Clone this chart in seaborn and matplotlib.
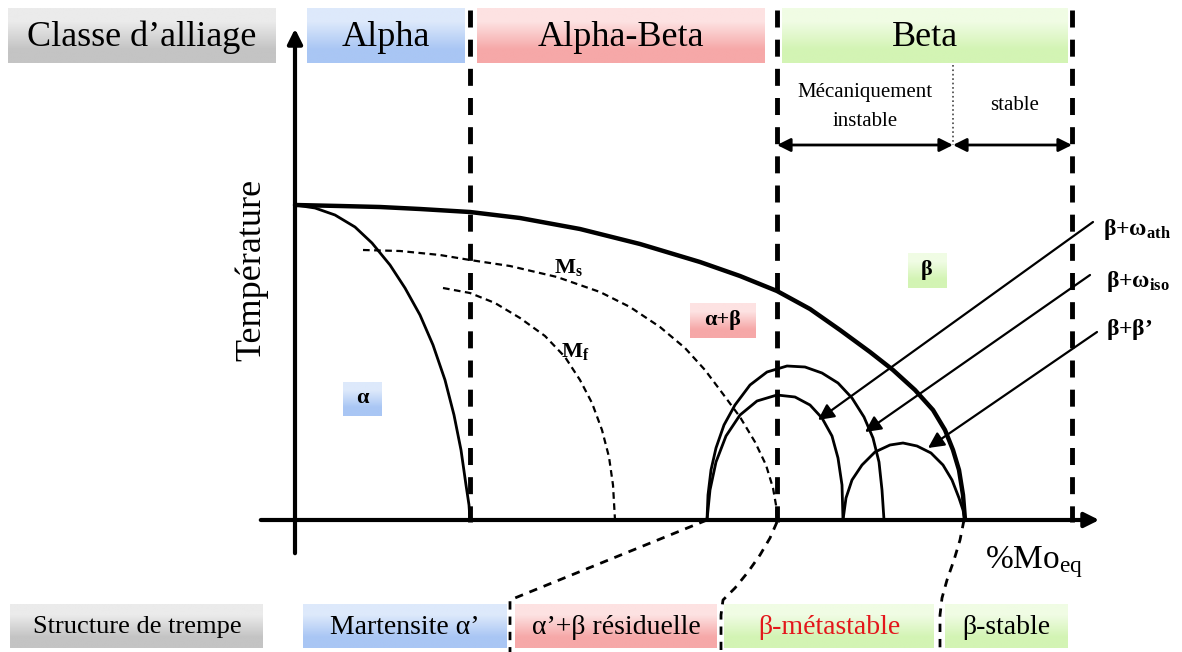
import numpy as np
import seaborn as sns
from matplotlib import pyplot as plt

# schematic phase diagram, coordinates (diagram units, y grows downward)

# alloy class header / quench structure footer
class_labels = ["Alpha", "Alpha-Beta", "Beta"]
class_spans = [(307, 465), (477, 765), (782, 1068)]
quench_labels = ["Martensite α’", "α’+β résiduelle", "β-métastable", "β-stable"]
quench_spans = [(303, 507), (515, 717), (724, 934), (945, 1068)]

# curves
beta_transus_x = [295, 340, 380, 420, 470, 520, 580, 640, 700, 740, 777, 810, 840, 870, 893,
                  915, 933, 945, 953, 959, 963, 965]
beta_transus_y = [205, 206, 207, 209, 212, 218, 229, 244, 262, 276, 291, 309, 330, 352, 370,
                  390, 410, 430, 450, 470, 495, 520]
alpha_transus_x = [295, 315, 335, 355, 372, 390, 405, 420, 433, 445, 454, 461, 466, 469, 470]
alpha_transus_y = [205, 208, 215, 227, 243, 265, 288, 315, 345, 380, 415, 450, 485, 505, 520]
ms_x = [363, 400, 440, 470, 510, 557, 600, 630, 660, 685, 705, 723, 740, 755, 766, 773, 776, 777]
ms_y = [250, 251, 255, 260, 266, 277, 292, 307, 327, 348, 370, 394, 417, 442, 465, 488, 505, 520]
mf_x = [443, 470, 495, 520, 545, 565, 580, 592, 602, 609, 613, 615]
mf_y = [288, 293, 303, 318, 336, 357, 380, 403, 430, 457, 485, 520]
dome_out_x = [707, 708, 711, 716, 724, 735, 750, 767, 787, 805, 822, 838, 852, 864, 873, 879, 882, 884]
dome_out_y = [520, 495, 470, 448, 425, 405, 385, 372, 366, 367, 373, 383, 398, 417, 438, 462, 490, 520]
dome_in_x = [707, 710, 716, 726, 740, 757, 777, 795, 810, 822, 832, 838, 842, 843]
dome_in_y = [520, 490, 462, 436, 415, 401, 395, 397, 405, 418, 436, 458, 485, 520]
dome_small_x = [843, 846, 852, 862, 875, 890, 903, 917, 931, 943, 952, 959, 963, 965]
dome_small_y = [520, 498, 480, 465, 452, 445, 443, 446, 453, 465, 480, 498, 510, 520]

# connectors to quench structures
conn1_x = [707, 510, 510]
conn1_y = [520, 600, 652]
conn2_x = [777, 770, 760, 748, 735, 723, 721, 721]
conn2_y = [522, 538, 555, 572, 588, 600, 615, 650]
conn3_x = [964, 960, 954, 947, 942, 940, 940]
conn3_y = [520, 540, 560, 580, 598, 615, 652]

# phase arrows (tail, head) and labels
arrow_tails = [(1093, 222), (1090, 275), (1097, 332)]
arrow_heads = [(818, 420), (865, 432), (928, 448)]
arrow_labels = [r"$\mathbf{β{+}ω_{ath}}$", r"$\mathbf{β{+}ω_{iso}}$", r"$\mathbf{β{+}β’}$"]
arrow_label_pos = [(1103, 230), (1106, 281), (1106, 330)]

gray = ("#ebebeb", "#c4c4c4")
blue = ("#dde9fb", "#a9c6f4")
red = ("#fde2e2", "#f6a8a8")
green = ("#f0fce4", "#d3f4b4")

sns.set_theme(style="white")
plt.rcParams['font.family'] = ['Liberation Serif', 'DejaVu Serif']
plt.rcParams['text.color'] = 'black'
plt.rcParams['mathtext.fontset'] = 'custom'
plt.rcParams['mathtext.rm'] = 'Liberation Serif'
plt.rcParams['mathtext.bf'] = 'Liberation Serif:bold'
plt.rcParams['mathtext.it'] = 'Liberation Serif:italic'

fig = plt.figure(figsize=(11.82, 6.52), dpi=100)
ax = fig.add_axes([0, 0, 1, 1])


def gbox(x0, x1, y0, y1, cols):
    top = np.array(plt.matplotlib.colors.to_rgb(cols[0]))
    bot = np.array(plt.matplotlib.colors.to_rgb(cols[1]))
    img = np.stack([top, bot])[:, None, :]
    ax.imshow(img, extent=(x0, x1, y1, y0), aspect='auto', interpolation='bilinear', zorder=0)


# header row
gbox(8, 276, 8, 63, gray)
ax.text(142, 37, "Classe d’alliage", fontsize=26, ha='center', va='center')
for lab, (a, b), c in zip(class_labels, class_spans, [blue, red, green]):
    gbox(a, b, 8, 63, c)
    ax.text((a + b) / 2, 37, lab, fontsize=26, ha='center', va='center')

# footer row
gbox(10, 263, 604, 648, gray)
ax.text(137, 627, "Structure de trempe", fontsize=19, ha='center', va='center')
for lab, (a, b), c, tc in zip(quench_labels, quench_spans, [blue, red, green, green],
                              ['black', 'black', '#e3161b', 'black']):
    gbox(a, b, 604, 648, c)
    ax.text((a + b) / 2, 627, lab, fontsize=20, ha='center', va='center', color=tc)

# axes
ax.annotate('', xy=(295, 26), xytext=(295, 556),
            arrowprops=dict(arrowstyle='-|>', lw=3, color='black', mutation_scale=22))
ax.annotate('', xy=(1102, 520), xytext=(258, 520),
            arrowprops=dict(arrowstyle='-|>', lw=3, color='black', mutation_scale=22))
ax.text(252, 270, "Température", fontsize=26, rotation=90, ha='center', va='center')
ax.text(985, 562, r"$\mathrm{\%Mo_{eq}}$", fontsize=24, ha='left', va='center')

# class boundaries
for xv, ytop in [(470, 10), (777, 10), (1072, 10)]:
    ax.plot([xv, xv], [ytop, 522], color='black', lw=3.5, ls=(0, (3.5, 2.5)), zorder=2)
ax.plot([953, 953], [65, 145], color='#444444', lw=1.2, ls=':')

ax.annotate('', xy=(777, 145), xytext=(953, 145),
            arrowprops=dict(arrowstyle='<|-|>', lw=2, color='black', mutation_scale=20, shrinkA=0, shrinkB=0))
ax.annotate('', xy=(953, 145), xytext=(1072, 145),
            arrowprops=dict(arrowstyle='<|-|>', lw=2, color='black', mutation_scale=20, shrinkA=0, shrinkB=0))
ax.text(865, 93, "Mécaniquement", fontsize=15, ha='center', va='center')
ax.text(865, 121, "instable", fontsize=15, ha='center', va='center')
ax.text(1015, 106, "stable", fontsize=15, ha='center', va='center')

# curves
curves = [
    (beta_transus_x, beta_transus_y, 3.2, '-'),
    (alpha_transus_x, alpha_transus_y, 2, '-'),
    (ms_x, ms_y, 1.6, (0, (3, 2))),
    (mf_x, mf_y, 1.6, (0, (3, 2))),
    (dome_out_x, dome_out_y, 2, '-'),
    (dome_in_x, dome_in_y, 2, '-'),
    (dome_small_x, dome_small_y, 2, '-'),
]
for cx, cy, lw, ls in curves:
    sns.lineplot(x=cx, y=cy, sort=False, estimator=None, ax=ax, color='black', lw=lw, ls=ls)

for cx, cy in [(conn1_x, conn1_y), (conn2_x, conn2_y), (conn3_x, conn3_y)]:
    sns.lineplot(x=cx, y=cy, sort=False, estimator=None, ax=ax, color='black', lw=2, ls=(0, (3, 2.5)))

# phase arrows
for t, h, lab, p in zip(arrow_tails, arrow_heads, arrow_labels, arrow_label_pos):
    ax.annotate('', xy=h, xytext=t,
                arrowprops=dict(arrowstyle='-|>', lw=1.6, color='black', mutation_scale=24, shrinkA=0, shrinkB=0))
    ax.text(p[0], p[1], lab, fontsize=17, ha='left', va='center')

# region labels
ax.text(568, 268, r"$\mathbf{M_s}$", fontsize=16, ha='center', va='center')
ax.text(575, 352, r"$\mathbf{M_f}$", fontsize=16, ha='center', va='center')
gbox(343, 382, 382, 416, blue)
ax.text(362, 398, "α", fontsize=16, fontweight='bold', ha='center', va='center')
gbox(690, 756, 303, 338, red)
ax.text(723, 320, "α+β", fontsize=16, fontweight='bold', ha='center', va='center')
gbox(908, 947, 253, 288, green)
ax.text(927, 270, "β", fontsize=16, fontweight='bold', ha='center', va='center')

ax.set_xlim(0, 1182)
ax.set_ylim(652, 0)
ax.axis('off')
fig.savefig('out.png', dpi=100)
